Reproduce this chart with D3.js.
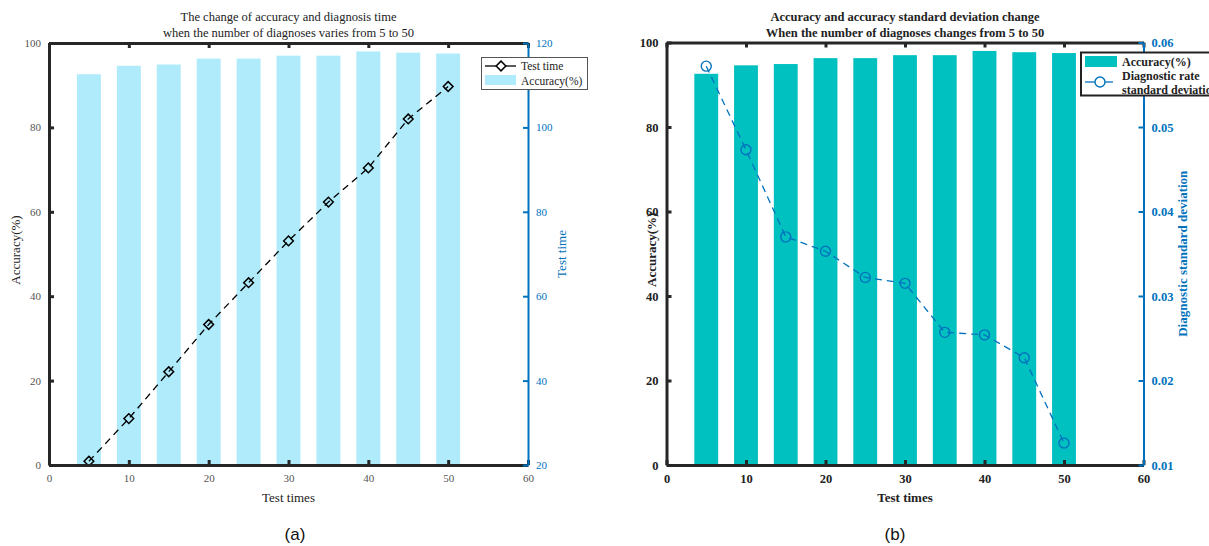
<!DOCTYPE html>
<html>
<head>
<meta charset="utf-8">
<script src="https://cdn.jsdelivr.net/npm/d3@7"></script>
<style>
  html, body { margin: 0; padding: 0; background: #fff; }
  svg { display: block; }
</style>
</head>
<body>
<svg id="chart" width="1209" height="546"></svg>
<script>
// ---------------- DATA ----------------
const testTimes = [5, 10, 15, 20, 25, 30, 35, 40, 45, 50];
const accuracy = [92.6, 94.6, 94.9, 96.3, 96.3, 97.0, 97.0, 98.0, 97.7, 97.5];
const testTime = [20.9, 31.0, 42.1, 53.3, 63.2, 73.1, 82.3, 90.4, 102.0, 109.7];
const stdDev = [0.0572, 0.0473, 0.0370, 0.0353, 0.0322, 0.0315, 0.0257, 0.0254, 0.0227, 0.0126];
const xTicks = [0, 10, 20, 30, 40, 50, 60];
const accTicks = [0, 20, 40, 60, 80, 100];
const timeTicks = [20, 40, 60, 80, 100, 120];
const stdTicks = [0.01, 0.02, 0.03, 0.04, 0.05, 0.06];
const titleA = ["The change of accuracy and diagnosis time", "when the number of diagnoses varies from 5 to 50"];
const titleB = ["Accuracy and accuracy standard deviation change", "When the number of diagnoses changes from 5 to 50"];

// ---------------- DRAW ----------------
const svg = d3.select("#chart");
const BLUE = "#0072BD";
const AXC = "#262626";

function panel(o) {
  const g = svg.append("g");
  const x = d3.scaleLinear().domain([0, 60]).range([o.left, o.right]);
  const yL = d3.scaleLinear().domain([0, 100]).range([o.bottom, o.top]);
  const yR = d3.scaleLinear().domain(o.rDomain).range([o.bottom, o.top]);
  const fw = o.bold ? "bold" : "normal";
  const font = "'Liberation Serif', 'Times New Roman', serif";

  // bars
  g.selectAll("rect.bar").data(testTimes).join("rect")
    .attr("class", "bar")
    .attr("x", d => x(d - 1.5))
    .attr("width", x(3) - x(0))
    .attr("y", (d, i) => yL(accuracy[i]))
    .attr("height", (d, i) => yL(0) - yL(accuracy[i]))
    .attr("fill", o.barColor);

  // line
  const line = d3.line().x((d, i) => x(testTimes[i])).y(d => yR(d));
  g.append("path").datum(o.rValues)
    .attr("d", line).attr("fill", "none")
    .attr("stroke", o.lineColor).attr("stroke-width", 1.3)
    .attr("stroke-dasharray", "7,5");
  if (o.marker === "diamond") {
    g.selectAll("path.mk").data(o.rValues).join("path")
      .attr("class", "mk")
      .attr("d", d3.symbol(d3.symbolDiamond2, 60)())
      .attr("transform", (d, i) => `translate(${x(testTimes[i])},${yR(d)})`)
      .attr("fill", "none").attr("stroke", o.lineColor).attr("stroke-width", 1.5);
  } else {
    g.selectAll("circle.mk").data(o.rValues).join("circle")
      .attr("class", "mk")
      .attr("cx", (d, i) => x(testTimes[i])).attr("cy", d => yR(d)).attr("r", 5)
      .attr("fill", "none").attr("stroke", o.lineColor).attr("stroke-width", 1.4);
  }

  // axes
  const styleAxis = (sel, color, sw, fs, fcol) => {
    sel.select(".domain").attr("stroke", color).attr("stroke-width", sw);
    sel.selectAll(".tick line").attr("stroke", color).attr("stroke-width", sw);
    sel.selectAll(".tick text").attr("fill", fcol).style("font-family", font)
      .style("font-size", fs + "px").style("font-weight", fw);
  };
  const axB = g.append("g").attr("transform", `translate(0,${o.bottom})`)
    .call(d3.axisBottom(x).tickValues(xTicks).tickFormat(d3.format("d")).tickSize(-5).tickSizeOuter(0).tickPadding(9));
  styleAxis(axB, AXC, 3, o.tickFs, o.tickCol);
  const axT = g.append("g").attr("transform", `translate(0,${o.top})`)
    .call(d3.axisTop(x).tickValues(xTicks).tickFormat("").tickSize(-5).tickSizeOuter(0));
  styleAxis(axT, AXC, 3, o.tickFs, o.tickCol);
  const axL = g.append("g").attr("transform", `translate(${o.left},0)`)
    .call(d3.axisLeft(yL).tickValues(accTicks).tickFormat(d3.format("d")).tickSize(-5).tickSizeOuter(0).tickPadding(8));
  styleAxis(axL, AXC, 3, o.tickFs, o.tickCol);
  const axR = g.append("g").attr("transform", `translate(${o.right},0)`)
    .call(d3.axisRight(yR).tickValues(o.rTicks).tickFormat(o.rFormat).tickSize(-5).tickSizeOuter(0).tickPadding(8));
  styleAxis(axR, BLUE, 2, o.tickFs, BLUE);

  // titles & labels
  const tx = (o.left + o.right) / 2;
  o.title.forEach((t, i) => {
    g.append("text").attr("x", tx).attr("y", 21 + i * 15.5).attr("text-anchor", "middle")
      .style("font-family", font).style("font-size", "12.5px").style("font-weight", fw)
      .attr("fill", "#222").text(t);
  });
  g.append("text").attr("x", tx).attr("y", 502).attr("text-anchor", "middle")
    .style("font-family", font).style("font-size", "13px").style("font-weight", fw)
    .attr("fill", "#222").text("Test times");
  const cy = (o.top + o.bottom) / 2;
  g.append("text").attr("transform", `translate(${o.lLabelX},${cy - 4}) rotate(-90)`)
    .attr("text-anchor", "middle")
    .style("font-family", font).style("font-size", "13px").style("font-weight", fw)
    .attr("fill", "#222").text("Accuracy(%)");
  g.append("text").attr("transform", `translate(${o.rLabelX},${cy}) rotate(-90)`)
    .attr("text-anchor", "middle")
    .style("font-family", font).style("font-size", "13px").style("font-weight", fw)
    .attr("fill", BLUE).text(o.rLabel);

  // caption
  g.append("text").attr("x", o.capX).attr("y", 540).attr("text-anchor", "middle")
    .style("font-family", "'Liberation Sans', Arial, sans-serif").style("font-size", "17px")
    .attr("fill", "#111").text(o.caption);

  return { g, font, fw };
}

// Panel (a)
const A = panel({
  left: 49, right: 528, top: 43, bottom: 465,
  rDomain: [20, 120], rValues: testTime, rTicks: timeTicks, rFormat: d3.format("d"),
  barColor: "#AFEBFB", lineColor: "#000", marker: "diamond",
  bold: false, tickFs: 11, tickCol: "#555",
  title: titleA, lLabelX: 20, rLabel: "Test time", rLabelX: 566, caption: "(a)", capX: 295
});
// legend (a)
(function () {
  const g = A.g.append("g");
  g.append("rect").attr("x", 481.5).attr("y", 57.5).attr("width", 106).attr("height", 32)
    .attr("fill", "#fff").attr("stroke", "#555").attr("stroke-width", 1);
  g.append("line").attr("x1", 485).attr("x2", 516).attr("y1", 66).attr("y2", 66)
    .attr("stroke", "#000").attr("stroke-width", 1.3);
  g.append("path").attr("d", d3.symbol(d3.symbolDiamond2, 60)())
    .attr("transform", "translate(501,66)").attr("fill", "#fff").attr("stroke", "#000").attr("stroke-width", 1.5);
  g.append("rect").attr("x", 485).attr("y", 75).attr("width", 31).attr("height", 10).attr("fill", "#AFEBFB");
  [["Test time", 70], ["Accuracy(%)", 85]].forEach(([t, y]) => {
    g.append("text").attr("x", 521).attr("y", y).style("font-family", A.font)
      .style("font-size", "11.5px").attr("fill", "#222").text(t);
  });
})();

// Panel (b)
const B = panel({
  left: 666.5, right: 1143.5, top: 42.5, bottom: 465,
  rDomain: [0.01, 0.06], rValues: stdDev, rTicks: stdTicks, rFormat: d3.format(".2f"),
  barColor: "#00C0C0", lineColor: BLUE, marker: "circle",
  bold: true, tickFs: 12.5, tickCol: "#222",
  title: titleB, lLabelX: 656, rLabel: "Diagnostic standard deviation", rLabelX: 1187, caption: "(b)", capX: 895
});
// legend (b)
(function () {
  const g = B.g.append("g");
  g.append("rect").attr("x", 1081).attr("y", 52.5).attr("width", 140).attr("height", 43)
    .attr("fill", "#fff").attr("stroke", "#222").attr("stroke-width", 2);
  g.append("rect").attr("x", 1085).attr("y", 56).attr("width", 32).attr("height", 11).attr("fill", "#00C0C0");
  g.append("line").attr("x1", 1085).attr("x2", 1113).attr("y1", 82).attr("y2", 82)
    .attr("stroke", BLUE).attr("stroke-width", 1.3);
  g.append("circle").attr("cx", 1100).attr("cy", 82).attr("r", 5)
    .attr("fill", "#fff").attr("stroke", BLUE).attr("stroke-width", 1.4);
  [["Accuracy(%)", 66], ["Diagnostic rate", 80], ["standard deviation", 94]].forEach(([t, y]) => {
    g.append("text").attr("x", 1122).attr("y", y).style("font-family", B.font)
      .style("font-size", "12px").style("font-weight", "bold").attr("fill", "#222").text(t);
  });
})();
</script>
</body>
</html>
